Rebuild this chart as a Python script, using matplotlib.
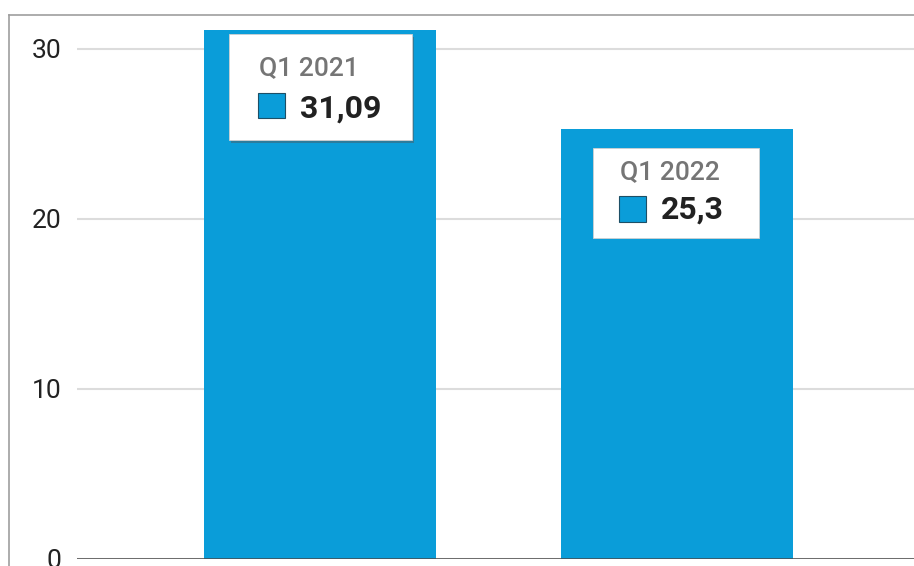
import matplotlib.pyplot as plt
import matplotlib.patheffects as pe
from matplotlib.patches import Rectangle
from matplotlib.lines import Line2D
from matplotlib.transforms import IdentityTransform

# --- data ---
quarters = ['Q1 2021', 'Q1 2022']
values = [31.09, 25.3]
y_ticks = [0, 10, 20, 30]

bar_color = '#0a9dd9'
W, H = 914, 566

plt.rcParams['font.family'] = ['Roboto', 'DejaVu Sans']

fig = plt.figure(figsize=(W / 100, H / 100), dpi=100)
ax = fig.add_axes([77 / W, 7 / H, 837 / W, 544 / H])

x = list(range(len(quarters)))
ax.bar(x, values, width=0.65, color=bar_color, zorder=2)

ax.set_xlim(-0.681, 1.664)
ax.set_ylim(0, 32.0)
ax.set_yticks(y_ticks)
ax.set_yticklabels([str(t) for t in y_ticks])
ax.set_xticks([])
ax.tick_params(axis='y', length=0, pad=11, labelsize=19, labelcolor='#222222')
ax.grid(axis='y', color='#dcdcdc', linewidth=1.5, zorder=0)
ax.set_axisbelow(True)
for s in ax.spines.values():
    s.set_visible(False)
ax.axhline(0, color='#4a4a4a', linewidth=1.8, zorder=3)

# --- outer frame (left + top) ---
px = IdentityTransform()
fig.add_artist(Line2D([9, 9], [0, H - 15], transform=px, color='#9e9e9e', linewidth=1.2))
fig.add_artist(Line2D([9, W], [H - 15, H - 15], transform=px, color='#9e9e9e', linewidth=1.2))

# --- tooltips (image pixel coords, y from top) ---
def tooltip(box, label_xy, sq, val_xy, label, value, shadow):
    x0, y0, x1, y1 = box
    r = Rectangle((x0, H - y1), x1 - x0, y1 - y0, transform=px, facecolor='white',
                  edgecolor='#d0d0d0', linewidth=0.6, zorder=5)
    if shadow:
        r.set_path_effects([pe.SimplePatchShadow(offset=(1.5, -2.5), shadow_rgbFace='#555555', alpha=0.45),
                            pe.Normal()])
    fig.add_artist(r)
    fig.text(label_xy[0], H - label_xy[1], label, transform=px, fontsize=19,
             fontweight='medium', color='#757575', ha='left', va='baseline', zorder=6)
    sx0, sy0, sx1, sy1 = sq
    fig.add_artist(Rectangle((sx0, H - sy1), sx1 - sx0, sy1 - sy0, transform=px,
                             facecolor=bar_color, edgecolor='#1d4f66', linewidth=0.8, zorder=6))
    fig.text(val_xy[0], H - val_xy[1], value, transform=px, fontsize=23, fontweight='bold',
             color='#212121', ha='left', va='baseline', zorder=6)

fmt = [f"{v:g}".replace('.', ',') for v in values]
tooltip((229, 34, 412, 140), (259, 75), (258, 93, 285, 118), (300, 118), quarters[0], fmt[0], True)
tooltip((593, 148, 759, 238), (620, 179), (619, 196, 646, 222), (661, 219), quarters[1], fmt[1], False)

fig.savefig('out.png', dpi=100)
